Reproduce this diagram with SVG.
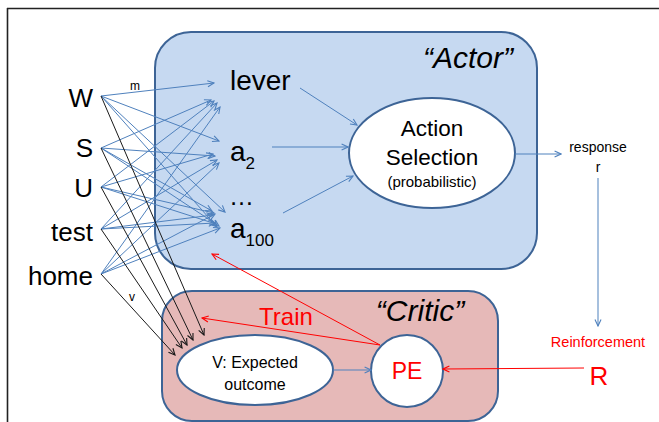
<svg xmlns="http://www.w3.org/2000/svg" width="659" height="422" viewBox="0 0 659 422">
  <style>
    text { font-family: "Liberation Sans", Arial, sans-serif; fill: #000; }
    .panel-actor { fill: #C6D9F1; stroke: #3D6496; stroke-width: 2; }
    .panel-critic { fill: #E6B9B8; stroke: #3D6496; stroke-width: 2; }
    .node { fill: #FFFFFF; stroke: #3D6496; stroke-width: 2; }
    .b { stroke: #4F81BD; stroke-width: 1; fill: none; marker-end: url(#ab); }
    .k { stroke: #1A1A1A; stroke-width: 1; fill: none; marker-end: url(#ak); }
    .r { stroke: #FF0000; stroke-width: 1; fill: none; marker-end: url(#ar); }
    .red { fill: #FF0000; }
    .title { font-style: italic; font-size: 30px; }
    .in { font-size: 26px; text-anchor: end; }
  </style>
  <defs>
    <marker id="ab" viewBox="0 0 10 10" refX="9" refY="5" markerWidth="8" markerHeight="8" markerUnits="userSpaceOnUse" orient="auto">
      <path d="M1,1.2 L9,5 L1,8.8" fill="none" stroke="#4F81BD" stroke-width="1.4"/>
    </marker>
    <marker id="ak" viewBox="0 0 10 10" refX="9" refY="5" markerWidth="8" markerHeight="8" markerUnits="userSpaceOnUse" orient="auto">
      <path d="M1,1.2 L9,5 L1,8.8" fill="none" stroke="#1A1A1A" stroke-width="1.4"/>
    </marker>
    <marker id="ar" viewBox="0 0 10 10" refX="9" refY="5" markerWidth="8" markerHeight="8" markerUnits="userSpaceOnUse" orient="auto">
      <path d="M1,1.2 L9,5 L1,8.8" fill="none" stroke="#FF0000" stroke-width="1.4"/>
    </marker>
  </defs>

  <!-- outer frame -->
  <g id="frame" stroke="#222" stroke-width="1.6" fill="none">
    <line x1="7" y1="8.5" x2="659" y2="8.5"/>
    <line x1="7.5" y1="8" x2="7.5" y2="422"/>
  </g>

  <!-- panels -->
  <g id="actor">
    <rect class="panel-actor" x="155" y="32" width="382" height="237" rx="36"/>
    <text class="title" x="468" y="68" text-anchor="middle">“Actor”</text>
  </g>
  <g id="critic">
    <rect class="panel-critic" x="162" y="291" width="336" height="130" rx="30"/>
    <text class="title" x="420" y="321" text-anchor="middle">“Critic”</text>
  </g>

  <!-- stimulus inputs -->
  <g id="input-W"><text class="in" x="93" y="107">W</text></g>
  <g id="input-S"><text class="in" x="93" y="157">S</text></g>
  <g id="input-U"><text class="in" x="93" y="197">U</text></g>
  <g id="input-test"><text class="in" x="93" y="241">test</text></g>
  <g id="input-home"><text class="in" x="93" y="285">home</text></g>

  <!-- action units -->
  <g id="action-lever"><text x="230" y="90" font-size="28">lever</text></g>
  <g id="action-a2"><text x="230" y="161" font-size="28">a<tspan font-size="17" dy="8">2</tspan></text></g>
  <g id="action-dots"><text x="229" y="205" font-size="25">…</text></g>
  <g id="action-a100"><text x="230" y="238" font-size="28">a<tspan font-size="17" dy="8">100</tspan></text></g>

  <!-- action selection -->
  <g id="action-selection">
    <ellipse class="node" cx="432" cy="153" rx="83" ry="55"/>
    <text x="432" y="136" font-size="22.5" text-anchor="middle">Action</text>
    <text x="432" y="165" font-size="22.5" text-anchor="middle">Selection</text>
    <text x="432" y="187" font-size="15" text-anchor="middle">(probabilistic)</text>
  </g>

  <!-- response -->
  <g id="response">
    <text x="598" y="152" font-size="14" text-anchor="middle">response</text>
    <text x="598" y="172" font-size="14" text-anchor="middle">r</text>
  </g>

  <!-- reinforcement -->
  <g id="reinforcement">
    <text class="red" x="598" y="347" font-size="14.5" text-anchor="middle">Reinforcement</text>
    <text class="red" x="599" y="385" font-size="26" text-anchor="middle">R</text>
  </g>

  <!-- value node -->
  <g id="value">
    <ellipse class="node" cx="255" cy="370" rx="78" ry="35"/>
    <text x="255" y="368" font-size="16" text-anchor="middle">V: Expected</text>
    <text x="255" y="390" font-size="16" text-anchor="middle">outcome</text>
  </g>

  <!-- prediction error node -->
  <g id="pe">
    <circle class="node" cx="407" cy="371" r="36"/>
    <text class="red" x="407" y="379" font-size="23" text-anchor="middle">PE</text>
  </g>

  <g id="train-label"><text class="red" x="286" y="325" font-size="24" text-anchor="middle">Train</text></g>

  <!-- connectors -->
  <g id="connectors">
    <!-- W -->
    <line class="b" x1="101" y1="96" x2="214" y2="83"/>
    <line class="b" x1="101" y1="96" x2="219" y2="141"/>
    <line class="b" x1="101" y1="96" x2="225" y2="212"/>
    <line class="b" x1="101" y1="96" x2="217" y2="227"/>
    <!-- S -->
    <line class="b" x1="101" y1="148" x2="211" y2="100"/>
    <line class="b" x1="101" y1="148" x2="215" y2="156"/>
    <line class="b" x1="101" y1="148" x2="212" y2="211"/>
    <line class="b" x1="101" y1="148" x2="219" y2="226"/>
    <!-- U -->
    <line class="b" x1="101" y1="187" x2="214" y2="101"/>
    <line class="b" x1="101" y1="187" x2="213" y2="154"/>
    <line class="b" x1="101" y1="187" x2="214" y2="213"/>
    <line class="b" x1="101" y1="187" x2="216" y2="224"/>
    <!-- test -->
    <line class="b" x1="101" y1="229" x2="217" y2="103"/>
    <line class="b" x1="101" y1="229" x2="217" y2="160"/>
    <line class="b" x1="101" y1="229" x2="213" y2="215"/>
    <line class="b" x1="101" y1="229" x2="215" y2="223"/>
    <!-- home -->
    <line class="b" x1="101" y1="274" x2="220" y2="107"/>
    <line class="b" x1="101" y1="274" x2="219" y2="163"/>
    <line class="b" x1="101" y1="274" x2="215" y2="214"/>
    <line class="b" x1="101" y1="274" x2="220" y2="228"/>

    <!-- inputs to value -->
    <line class="k" x1="101" y1="96" x2="204" y2="335"/>
    <line class="k" x1="101" y1="148" x2="193" y2="340"/>
    <line class="k" x1="101" y1="187" x2="187" y2="345"/>
    <line class="k" x1="101" y1="229" x2="182" y2="348"/>
    <line class="k" x1="101" y1="274" x2="175" y2="355"/>

    <!-- actions to selection -->
    <line class="b" x1="300" y1="88" x2="357" y2="125"/>
    <line class="b" x1="272" y1="147" x2="348" y2="147"/>
    <line class="b" x1="283" y1="213" x2="353" y2="176"/>

    <!-- selection to response, response to reinforcement -->
    <line class="b" x1="515" y1="154" x2="561" y2="154"/>
    <line class="b" x1="598" y1="178" x2="598" y2="326"/>

    <!-- value to PE, reinforcement to PE -->
    <line class="b" x1="333" y1="370" x2="371" y2="370"/>
    <line class="r" x1="584" y1="368" x2="443" y2="369"/>

    <!-- training signals from PE -->
    <line class="r" x1="380" y1="345" x2="202" y2="318"/>
    <line class="r" x1="380" y1="345" x2="212" y2="254"/>
  </g>

  <!-- weight labels -->
  <g id="weight-labels">
    <text x="135" y="90" font-size="12" text-anchor="middle">m</text>
    <text x="132" y="301" font-size="12" text-anchor="middle">v</text>
  </g>
</svg>
